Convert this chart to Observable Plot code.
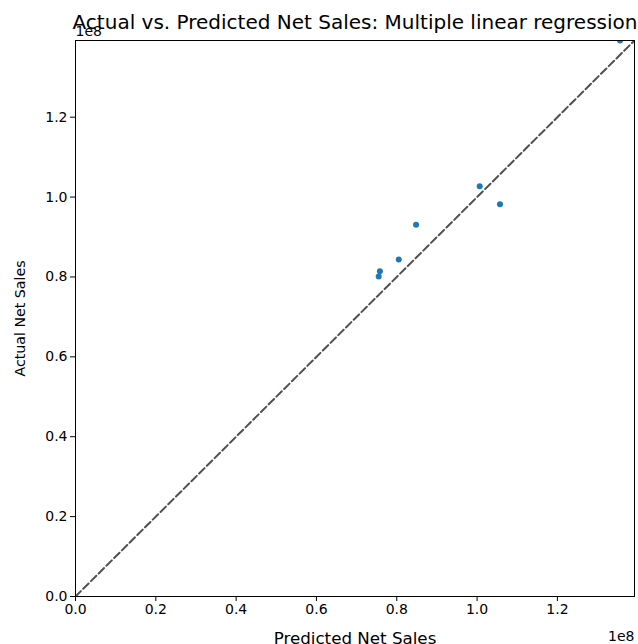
<!DOCTYPE html>
<html>
<head>
<meta charset="utf-8">
<script src="https://cdn.jsdelivr.net/npm/d3@7"></script>
<script src="https://cdn.jsdelivr.net/npm/@observablehq/plot@0.6"></script>
<style>
  html, body { margin: 0; padding: 0; background: #fff; }
  svg { font-family: "DejaVu Sans", sans-serif; }
</style>
</head>
<body>
<div id="chart"></div>
<script>
const predicted = [1.356e8, 1.0065e8, 1.057e8, 0.848e8, 0.805e8, 0.758e8, 0.755e8];
const actual    = [1.392e8, 1.027e8, 0.982e8, 0.931e8, 0.844e8, 0.814e8, 0.801e8];
const tickValues = [0, 0.2e8, 0.4e8, 0.6e8, 0.8e8, 1.0e8, 1.2e8];
const titleText = "Actual vs. Predicted Net Sales: Multiple linear regression";
const xLabel = "Predicted Net Sales";
const yLabel = "Actual Net Sales";
const offsetText = "1e8";

const points = predicted.map((p, i) => ({predicted: p, actual: actual[i]}));
const maxV = d3.max([...predicted, ...actual]);
const diag = [{v: 0}, {v: maxV}];
const fmt = d => (d / 1e8).toFixed(1);

const chart = Plot.plot({
  width: 638,
  height: 644,
  marginLeft: 75,
  marginRight: 4,
  marginTop: 40,
  marginBottom: 48,
  style: {fontFamily: "DejaVu Sans, sans-serif", color: "#000", background: "#fff", overflow: "hidden"},
  x: {domain: [0, maxV]},
  y: {domain: [0, maxV]},
  marks: [
    Plot.line(diag, {x: "v", y: "v", stroke: "#505050", strokeWidth: 2, strokeDasharray: "7.6,3.3", clip: "frame"}),
    Plot.dot(points, {x: "predicted", y: "actual", r: 3, fill: "#1f77b4", stroke: "none", clip: "frame"}),
    Plot.frame({stroke: "#000", strokeWidth: 1}),
    Plot.axisX({ticks: tickValues, tickFormat: fmt, tickSize: 5, tickPadding: 3, fontSize: 14, label: null}),
    Plot.axisY({ticks: tickValues, tickFormat: fmt, tickSize: 5, tickPadding: 3, fontSize: 14, label: null}),
    Plot.text([offsetText], {frameAnchor: "top-left", dy: -8.5, text: d => d, fontSize: 14, fill: "#000", textAnchor: "start", lineAnchor: "middle"}),
    Plot.text([titleText], {frameAnchor: "top", dy: -18, text: d => d, fontSize: 20, fill: "#000", lineAnchor: "middle"}),
    Plot.text([offsetText], {frameAnchor: "bottom-right", dy: 40.5, text: d => d, fontSize: 14, fill: "#000", textAnchor: "end", lineAnchor: "middle"}),
    Plot.text([xLabel], {frameAnchor: "bottom", dy: 42, text: d => d, fontSize: 16.7, fill: "#000", textAnchor: "middle", lineAnchor: "middle"}),
    Plot.text([yLabel], {frameAnchor: "left", dx: -55, text: d => d, fontSize: 14.2, fill: "#000", rotate: -90, textAnchor: "middle", lineAnchor: "middle"})
  ]
});
document.getElementById("chart").appendChild(chart);
</script>
</body>
</html>
